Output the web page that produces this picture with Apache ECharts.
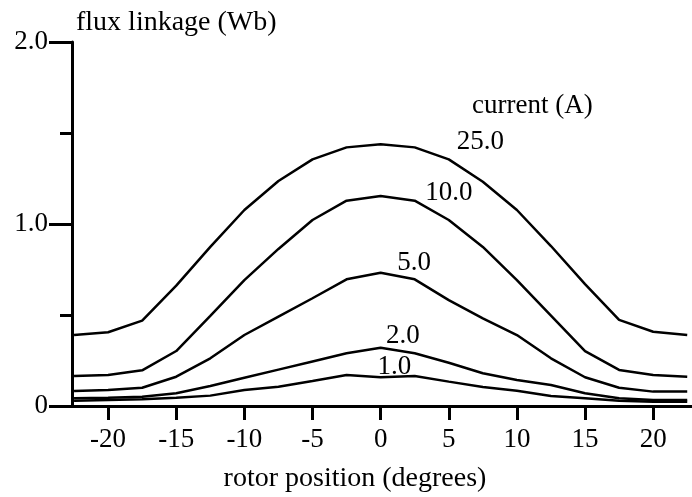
<!DOCTYPE html>
<html>
<head>
<meta charset="utf-8">
<script src="https://cdn.jsdelivr.net/npm/echarts@6/dist/echarts.min.js"></script>
<style>
html,body{margin:0;padding:0;background:#fff;}
#chart{width:692px;height:497px;}
</style>
</head>
<body>
<div id="chart"></div>
<script>
// rotor position (degrees)
const positions = [-22.5,-20,-17.5,-15,-12.5,-10,-7.5,-5,-2.5,0,2.5,5,7.5,10,12.5,15,17.5,20,22.5];
// flux linkage (Wb) per current
const flux25 = [0.39,0.405,0.469,0.661,0.874,1.077,1.236,1.355,1.421,1.438,1.421,1.355,1.232,1.077,0.879,0.67,0.473,0.408,0.39];
const flux10 = [0.165,0.170,0.196,0.302,0.495,0.692,0.863,1.022,1.128,1.154,1.128,1.022,0.874,0.692,0.497,0.302,0.198,0.170,0.161];
const flux5  = [0.082,0.088,0.10,0.161,0.262,0.39,0.491,0.592,0.696,0.732,0.696,0.582,0.482,0.39,0.262,0.158,0.10,0.079,0.079];
const flux2  = [0.042,0.046,0.051,0.07,0.11,0.155,0.2,0.245,0.29,0.32,0.29,0.238,0.18,0.143,0.115,0.07,0.042,0.033,0.033];
const flux1  = [0.029,0.033,0.037,0.045,0.057,0.088,0.106,0.137,0.17,0.158,0.165,0.134,0.104,0.084,0.055,0.042,0.029,0.024,0.024];

const curveNames = ['25.0','10.0','5.0','2.0','1.0'];
const curveData = [flux25, flux10, flux5, flux2, flux1];
// label anchor positions (data coords)
const labelX = [7.32, 5.0, 2.46, 1.63, 1.0];
const labelY = [1.451, 1.172, 0.786, 0.383, 0.214];
const legendTitle = 'current (A)';
const legendTitlePos = [11.13, 1.65];

const xTicks = [-20,-15,-10,-5,0,5,10,15,20];
const yLabels = {0:'0', 1:'1.0', 2:'2.0'};

const FONT = '"Liberation Serif", "Times New Roman", serif';

const chart = echarts.init(document.getElementById('chart'), null, {renderer:'canvas'});

const series = curveData.map((arr, i) => ({
  type: 'line',
  name: curveNames[i],
  data: positions.map((p, j) => [p, arr[j]]),
  showSymbol: false,
  symbol: 'none',
  lineStyle: {color: '#000', width: 2.5},
  silent: true,
  animation: false
}));

const labelData = curveNames.map((n, i) => ({value: [labelX[i], labelY[i]], name: n}));
labelData.push({value: legendTitlePos, name: legendTitle});

series.push({
  type: 'scatter',
  data: labelData,
  symbolSize: 0,
  silent: true,
  animation: false,
  z: 10,
  itemStyle: {opacity: 1},
  label: {
    show: true,
    position: 'inside',
    formatter: p => p.name,
    color: '#000',
    opacity: 1,
    fontFamily: FONT,
    fontSize: 27
  }
});

chart.setOption({
  animation: false,
  backgroundColor: '#fff',
  grid: {left: 72, right: 0, top: 42, bottom: 91, containLabel: false},
  xAxis: {
    type: 'value',
    min: -22.65,
    max: 22.85,
    axisLine: {show: true, onZero: false, lineStyle: {color: '#000', width: 3}},
    axisTick: {show: true, length: 14, lineStyle: {color: '#000', width: 3}, customValues: xTicks},
    axisLabel: {show: true, margin: 20, color: '#000', fontFamily: FONT, fontSize: 27, customValues: xTicks},
    splitLine: {show: false}
  },
  yAxis: {
    type: 'value',
    min: 0,
    max: 2,
    interval: 1,
    axisLine: {show: true, onZero: false, lineStyle: {color: '#000', width: 3}},
    axisTick: {show: true, length: 23, lineStyle: {color: '#000', width: 3}},
    minorTick: {show: true, splitNumber: 2, length: 12, lineStyle: {color: '#000', width: 3}},
    axisLabel: {show: true, margin: 24, color: '#000', fontFamily: FONT, fontSize: 27,
      formatter: v => yLabels[v] !== undefined ? yLabels[v] : ''},
    splitLine: {show: false},
    minorSplitLine: {show: false}
  },
  graphic: [
    {type: 'text', x: 76, y: 23, silent: true,
     style: {text: 'flux linkage (Wb)', font: '28px ' + FONT, fill: '#000', textAlign: 'left', textVerticalAlign: 'middle', verticalAlign: 'middle'}},
    {type: 'text', x: 355, y: 479, silent: true,
     style: {text: 'rotor position (degrees)', font: '28px ' + FONT, fill: '#000', textAlign: 'center', align: 'center', textVerticalAlign: 'middle', verticalAlign: 'middle'}}
  ],
  series: series
});
</script>
</body>
</html>
